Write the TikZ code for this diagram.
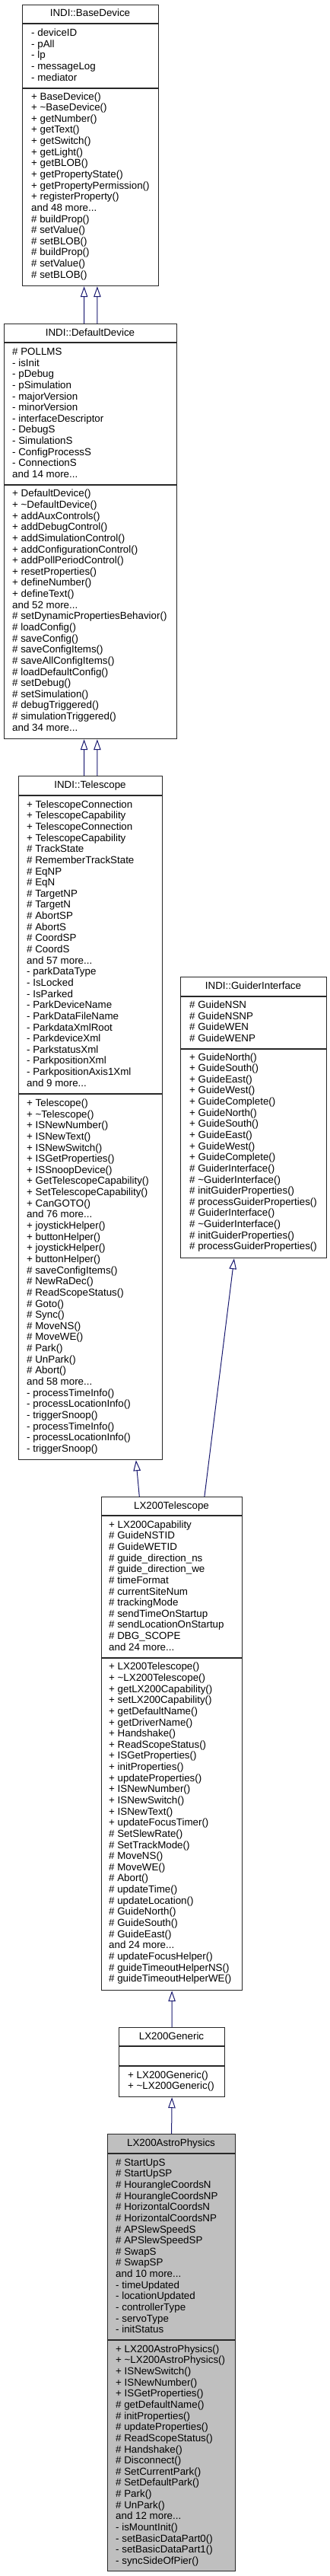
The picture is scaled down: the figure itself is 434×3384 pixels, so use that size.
\documentclass[tikz,border=0pt]{standalone}
\usepackage{fontspec}
\setmainfont{Liberation Sans}
\usetikzlibrary{arrows.meta}
\definecolor{edgeblue}{RGB}{25,25,112}
\definecolor{boxline}{RGB}{40,40,40}
\definecolor{hilite}{RGB}{191,191,191}
\newcommand{\mlines}[4]{%
  \foreach \t [count=\i] in {#4} {\node[txt] (#1\i) at (#2,{#3+14.64*(\i-1)}) {\t};}%
}
\begin{document}
\begin{tikzpicture}[x=1bp,y=-1bp,
  cls/.style={draw=boxline, line width=1.2bp, fill=white, inner sep=0pt, anchor=north west, rectangle},
  sepline/.style={draw=boxline, line width=1.2bp},
  txt/.style={anchor=base west, inner sep=0pt, font=\fontsize{13.35bp}{14.64bp}\selectfont},
  ttl/.style={anchor=base, inner sep=0pt, font=\fontsize{13.35bp}{14.64bp}\selectfont},
  inh/.style={draw=edgeblue, line width=1bp, -{Triangle[open, length=14bp, width=9.5bp]}}]
\useasboundingbox (0,0) rectangle (434,3384);
\fill[white] (0,0) rectangle (434,3384);

% ---------- INDI::BaseDevice ----------
\node[cls, minimum width=179bp, minimum height=369bp] (bd) at (29,6) {};
\draw[sepline] ([yshift=-25bp]bd.north west) -- ([yshift=-25bp]bd.north east);
\draw[sepline] ([yshift=-110bp]bd.north west) -- ([yshift=-110bp]bd.north east);
\node[ttl] (bdt) at (118.5,22) {INDI::BaseDevice};
\mlines{bda}{41}{47.5}{- deviceID, - pAll, - lp, - messageLog, - mediator}
\mlines{bdm}{41}{131}{+ BaseDevice(), + \textasciitilde BaseDevice(), + getNumber(), + getText(), + getSwitch(), + getLight(), + getBLOB(), + getPropertyState(), + getPropertyPermission(), + registerProperty(), and 48 more.{}.{}., \# buildProp(), \# setValue(), \# setBLOB(), \# buildProp(), \# setValue(), \# setBLOB()}

% ---------- INDI::DefaultDevice ----------
\node[cls, minimum width=227bp, minimum height=545bp] (dd) at (5,425) {};
\draw[sepline] ([yshift=-25bp]dd.north west) -- ([yshift=-25bp]dd.north east);
\draw[sepline] ([yshift=-212bp]dd.north west) -- ([yshift=-212bp]dd.north east);
\node[ttl] (ddt) at (118.5,441.5) {INDI::DefaultDevice};
\mlines{dda}{16}{466.5}{\# POLLMS, - isInit, - pDebug, - pSimulation, - majorVersion, - minorVersion, - interfaceDescriptor, - DebugS, - SimulationS, - ConfigProcessS, - ConnectionS, and 14 more.{}.{}.}
\mlines{ddm}{16}{652.8}{+ DefaultDevice(), + \textasciitilde DefaultDevice(), + addAuxControls(), + addDebugControl(), + addSimulationControl(), + addConfigurationControl(), + addPollPeriodControl(), + resetProperties(), + defineNumber(), + defineText(), and 52 more.{}.{}., \# setDynamicPropertiesBehavior(), \# loadConfig(), \# saveConfig(), \# saveConfigItems(), \# saveAllConfigItems(), \# loadDefaultConfig(), \# setDebug(), \# setSimulation(), \# debugTriggered(), \# simulationTriggered(), and 34 more.{}.{}.}

% ---------- INDI::Telescope ----------
\node[cls, minimum width=189bp, minimum height=898bp] (tel) at (24,1019) {};
\draw[sepline] ([yshift=-26bp]tel.north west) -- ([yshift=-26bp]tel.north east);
\draw[sepline] ([yshift=-418bp]tel.north west) -- ([yshift=-418bp]tel.north east);
\node[ttl] (telt) at (118.5,1035.5) {INDI::Telescope};
\mlines{tela}{35}{1061.2}{+ TelescopeConnection, + TelescopeCapability, + TelescopeConnection, + TelescopeCapability, \# TrackState, \# RememberTrackState, \# EqNP, \# EqN, \# TargetNP, \# TargetN, \# AbortSP, \# AbortS, \# CoordSP, \# CoordS, and 57 more.{}.{}., - parkDataType, - IsLocked, - IsParked, - ParkDeviceName, - ParkDataFileName, - ParkdataXmlRoot, - ParkdeviceXml, - ParkstatusXml, - ParkpositionXml, - ParkpositionAxis1Xml, and 9 more.{}.{}.}
\mlines{telm}{35}{1453.5}{+ Telescope(), + \textasciitilde Telescope(), + ISNewNumber(), + ISNewText(), + ISNewSwitch(), + ISGetProperties(), + ISSnoopDevice(), + GetTelescopeCapability(), + SetTelescopeCapability(), + CanGOTO(), and 76 more.{}.{}., + joystickHelper(), + buttonHelper(), + joystickHelper(), + buttonHelper(), \# saveConfigItems(), \# NewRaDec(), \# ReadScopeStatus(), \# Goto(), \# Sync(), \# MoveNS(), \# MoveWE(), \# Park(), \# UnPark(), \# Abort(), and 58 more.{}.{}., - processTimeInfo(), - processLocationInfo(), - triggerSnoop(), - processTimeInfo(), - processLocationInfo(), - triggerSnoop()}

% ---------- INDI::GuiderInterface ----------
\node[cls, minimum width=192bp, minimum height=369bp] (gi) at (237,1283) {};
\draw[sepline] ([yshift=-26bp]gi.north west) -- ([yshift=-26bp]gi.north east);
\draw[sepline] ([yshift=-95bp]gi.north west) -- ([yshift=-95bp]gi.north east);
\node[ttl] (git) at (333,1299) {INDI::GuiderInterface};
\mlines{gia}{249}{1324.5}{\# GuideNSN, \# GuideNSNP, \# GuideWEN, \# GuideWENP}
\mlines{gim}{249}{1393}{+ GuideNorth(), + GuideSouth(), + GuideEast(), + GuideWest(), + GuideComplete(), + GuideNorth(), + GuideSouth(), + GuideEast(), + GuideWest(), + GuideComplete(), \# GuiderInterface(), \# \textasciitilde GuiderInterface(), \# initGuiderProperties(), \# processGuiderProperties(), \# GuiderInterface(), \# \textasciitilde GuiderInterface(), \# initGuiderProperties(), \# processGuiderProperties()}

% ---------- LX200Telescope ----------
\node[cls, minimum width=185bp, minimum height=648bp] (lx) at (133,1966) {};
\draw[sepline] ([yshift=-25bp]lx.north west) -- ([yshift=-25bp]lx.north east);
\draw[sepline] ([yshift=-212bp]lx.north west) -- ([yshift=-212bp]lx.north east);
\node[ttl] (lxt) at (225.5,1982) {LX200Telescope};
\mlines{lxa}{143}{2007.2}{+ LX200Capability, \# GuideNSTID, \# GuideWETID, \# guide\_direction\_ns, \# guide\_direction\_we, \# timeFormat, \# currentSiteNum, \# trackingMode, \# sendTimeOnStartup, \# sendLocationOnStartup, \# DBG\_SCOPE, and 24 more.{}.{}.}
\mlines{lxm}{143}{2193.8}{+ LX200Telescope(), + \textasciitilde LX200Telescope(), + getLX200Capability(), + setLX200Capability(), + getDefaultName(), + getDriverName(), + Handshake(), + ReadScopeStatus(), + ISGetProperties(), + initProperties(), + updateProperties(), + ISNewNumber(), + ISNewSwitch(), + ISNewText(), + updateFocusTimer(), \# SetSlewRate(), \# SetTrackMode(), \# MoveNS(), \# MoveWE(), \# Abort(), \# updateTime(), \# updateLocation(), \# GuideNorth(), \# GuideSouth(), \# GuideEast(), and 24 more.{}.{}., \# updateFocusHelper(), \# guideTimeoutHelperNS(), \# guideTimeoutHelperWE()}

% ---------- LX200Generic ----------
\node[cls, minimum width=139bp, minimum height=91bp] (lg) at (156,2663) {};
\draw[sepline] ([yshift=-25bp]lg.north west) -- ([yshift=-25bp]lg.north east);
\draw[sepline] ([yshift=-51bp]lg.north west) -- ([yshift=-51bp]lg.north east);
\node[ttl] (lgt) at (225.5,2679) {LX200Generic};
\mlines{lgm}{168}{2730.2}{+ LX200Generic(), + \textasciitilde LX200Generic()}

% ---------- LX200AstroPhysics ----------
\node[cls, fill=hilite, minimum width=168bp, minimum height=574bp] (ap) at (141,2803) {};
\draw[sepline] ([yshift=-26bp]ap.north west) -- ([yshift=-26bp]ap.north east);
\draw[sepline] ([yshift=-271bp]ap.north west) -- ([yshift=-271bp]ap.north east);
\node[ttl] (apt) at (225,2819) {LX200AstroPhysics};
\mlines{apa}{152}{2845.2}{\# StartUpS, \# StartUpSP, \# HourangleCoordsN, \# HourangleCoordsNP, \# HorizontalCoordsN, \# HorizontalCoordsNP, \# APSlewSpeedS, \# APSlewSpeedSP, \# SwapS, \# SwapSP, and 10 more.{}.{}., - timeUpdated, - locationUpdated, - controllerType, - servoType, - initStatus}
\mlines{apm}{152}{3090.2}{+ LX200AstroPhysics(), + \textasciitilde LX200AstroPhysics(), + ISNewSwitch(), + ISNewNumber(), + ISGetProperties(), \# getDefaultName(), \# initProperties(), \# updateProperties(), \# ReadScopeStatus(), \# Handshake(), \# Disconnect(), \# SetCurrentPark(), \# SetDefaultPark(), \# Park(), \# UnPark(), and 12 more.{}.{}., - isMountInit(), - setBasicDataPart0(), - setBasicDataPart1(), - syncSideOfPier()}

% ---------- inheritance edges ----------
\draw[inh] ([xshift=-8.5bp]dd.north) -- ([xshift=-8.5bp]bd.south);
\draw[inh] ([xshift=8.8bp]dd.north) -- ([xshift=8.8bp]bd.south);
\draw[inh] ([xshift=-8.5bp]tel.north) -- ([xshift=-8.5bp]dd.south);
\draw[inh] ([xshift=8.8bp]tel.north) -- ([xshift=8.8bp]dd.south);
\draw[inh] ([xshift=-42.8bp]lx.north) -- ([xshift=59.8bp]tel.south);
\draw[inh] ([xshift=42.8bp]lx.north) -- ([xshift=-25.7bp]gi.south);
\draw[inh] (lg.north) -- (lx.south);
\draw[inh] (ap.north) -- (lg.south);
\end{tikzpicture}
\end{document}
